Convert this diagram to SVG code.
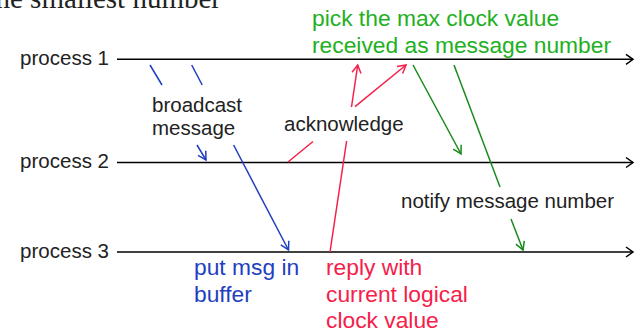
<svg xmlns="http://www.w3.org/2000/svg" width="635" height="336" viewBox="0 0 635 336">
<style>
  .lbl { font-family: "Liberation Sans", Arial, sans-serif; font-size: 20.5px; fill: #222; }
  .ann { font-family: "Liberation Sans", Arial, sans-serif; font-size: 22.8px; }
  .lane { stroke: #000; stroke-width: 1.6; fill: none; }
  .blue { stroke: #1f3fbf; stroke-width: 1.5; fill: none; }
  .red { stroke: #f5204a; stroke-width: 1.5; fill: none; }
  .green { stroke: #1a8a1a; stroke-width: 1.5; fill: none; }
</style>
<defs>
  <marker id="hLane" markerUnits="userSpaceOnUse" markerWidth="14" markerHeight="14" refX="0" refY="0" viewBox="-10 -7 12 14" orient="auto" overflow="visible">
    <path d="M -7 -5 L 0 0 L -7 5" fill="none" stroke="#000" stroke-width="1.5"/>
  </marker>
  <marker id="hBlue" markerUnits="userSpaceOnUse" markerWidth="14" markerHeight="14" refX="0" refY="0" viewBox="-10 -7 12 14" orient="auto" overflow="visible">
    <path d="M -8 -4.5 L 0 0 L -8 4.5" fill="none" stroke="#1f3fbf" stroke-width="1.5"/>
  </marker>
  <marker id="hRed" markerUnits="userSpaceOnUse" markerWidth="14" markerHeight="14" refX="0" refY="0" viewBox="-10 -7 12 14" orient="auto" overflow="visible">
    <path d="M -8 -4.5 L 0 0 L -8 4.5" fill="none" stroke="#f5204a" stroke-width="1.5"/>
  </marker>
  <marker id="hGreen" markerUnits="userSpaceOnUse" markerWidth="14" markerHeight="14" refX="0" refY="0" viewBox="-10 -7 12 14" orient="auto" overflow="visible">
    <path d="M -8 -4.5 L 0 0 L -8 4.5" fill="none" stroke="#1a8a1a" stroke-width="1.5"/>
  </marker>
</defs>
<rect width="635" height="336" fill="#fff"/>
<text x="221" y="8" text-anchor="end" font-family="Liberation Serif, serif" font-size="29" fill="#222">the smallest number</text>

<g id="process1">
  <text class="lbl" x="109" y="65" text-anchor="end">process 1</text>
  <line class="lane" x1="117" y1="59.3" x2="633" y2="59.3" marker-end="url(#hLane)"/>
</g>
<g id="process2">
  <text class="lbl" x="109" y="168" text-anchor="end">process 2</text>
  <line class="lane" x1="117" y1="162.5" x2="633" y2="162.5" marker-end="url(#hLane)"/>
</g>
<g id="process3">
  <text class="lbl" x="109" y="258" text-anchor="end">process 3</text>
  <line class="lane" x1="117" y1="252" x2="633" y2="252" marker-end="url(#hLane)"/>
</g>

<g id="connectors">
  <line class="blue" x1="150" y1="65" x2="162" y2="85"/>
  <line class="blue" x1="197" y1="145" x2="206" y2="160" marker-end="url(#hBlue)"/>
  <line class="blue" x1="191.7" y1="65" x2="202.2" y2="85"/>
  <line class="blue" x1="233.6" y1="145" x2="288.5" y2="250" marker-end="url(#hBlue)"/>
  <line class="red" x1="330" y1="252" x2="346.6" y2="141"/>
  <line class="red" x1="351.5" y1="107" x2="357.7" y2="65" marker-end="url(#hRed)"/>
  <line class="red" x1="288" y1="162" x2="313" y2="141.5"/>
  <line class="red" x1="355" y1="106.7" x2="406" y2="65" marker-end="url(#hRed)"/>
  <line class="green" x1="413" y1="65" x2="461" y2="154" marker-end="url(#hGreen)"/>
  <line class="green" x1="454" y1="65" x2="500" y2="187"/>
  <line class="green" x1="511" y1="219" x2="523" y2="250" marker-end="url(#hGreen)"/>
</g>

<g id="labels">
  <text class="lbl" x="152" y="112">broadcast</text>
  <text class="lbl" x="152" y="135">message</text>
  <text class="lbl" x="284" y="131">acknowledge</text>
  <text class="lbl" x="401" y="208">notify message number</text>
  <text class="ann" x="312" y="26" fill="#22b022">pick the max clock value</text>
  <text class="ann" x="312" y="53" fill="#22b022">received as message number</text>
  <text class="ann" x="194" y="275" fill="#1f3fbf">put msg in</text>
  <text class="ann" x="194" y="301.5" fill="#1f3fbf">buffer</text>
  <text class="ann" x="326" y="275" fill="#f5204a">reply with</text>
  <text class="ann" x="326" y="301.5" fill="#f5204a">current logical</text>
  <text class="ann" x="326" y="328" fill="#f5204a">clock value</text>
</g>
</svg>
